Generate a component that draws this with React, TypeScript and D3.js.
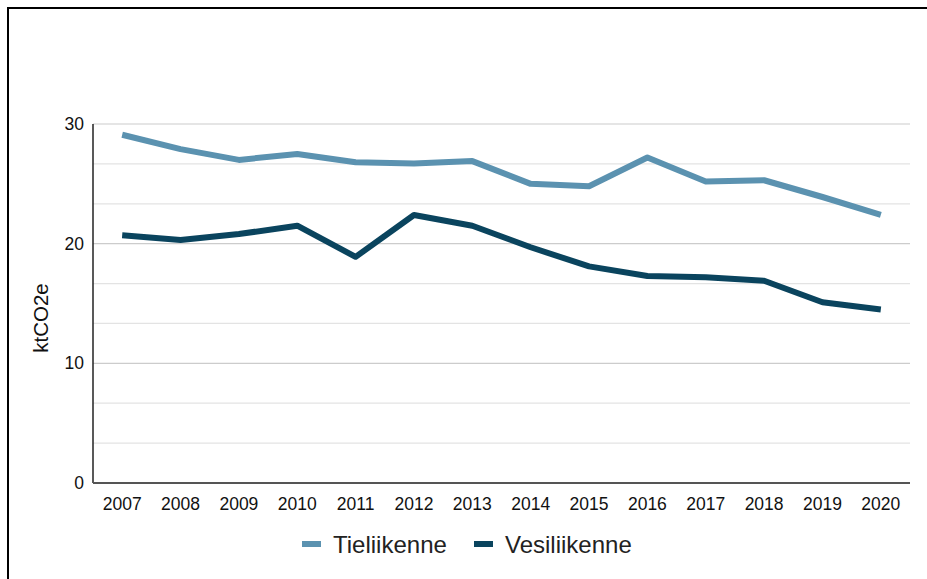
import React from "react";
import { scaleBand, scaleLinear, line } from "d3";

const years = ["2007", "2008", "2009", "2010", "2011", "2012", "2013", "2014", "2015", "2016", "2017", "2018", "2019", "2020"];
const tieliikenne = [29.1, 27.9, 27.0, 27.5, 26.8, 26.7, 26.9, 25.0, 24.8, 27.2, 25.2, 25.3, 23.9, 22.4];
const vesiliikenne = [20.7, 20.3, 20.8, 21.5, 18.9, 22.4, 21.5, 19.7, 18.1, 17.3, 17.2, 16.9, 15.1, 14.5];
const yTicks = [0, 10, 20, 30];
const gridValues = [10 / 3, 20 / 3, 10, 40 / 3, 50 / 3, 20, 70 / 3, 80 / 3, 30];

const seriesList = [
  { name: "Tieliikenne", values: tieliikenne, color: "#5b92b0" },
  { name: "Vesiliikenne", values: vesiliikenne, color: "#0a445e" },
];

const W = 927;
const H = 579;
const left = 93;
const right = 910;
const top = 124;
const bottom = 483;

export default function App() {
  const x = scaleBand().domain(years).range([left, right]).padding(0);
  const y = scaleLinear().domain([0, 30]).range([bottom, top]);
  const cx = (d: string) => (x(d) ?? 0) + x.bandwidth() / 2;

  const font = "'Liberation Sans', Arial, sans-serif";

  return (
    <svg
      width={W}
      height={H}
      style={{ position: "absolute", left: 0, top: 0, display: "block", background: "#fff" }}
      fontFamily={font}
    >
      {/* frame */}
      <rect x={8} y={8} width={940} height={600} fill="none" stroke="#000" strokeWidth={2} />

      {/* grid */}
      {gridValues.map((v, i) => {
        const major = Math.abs(v - Math.round(v / 10) * 10) < 1e-6;
        return (
          <line
            key={i}
            x1={left}
            x2={right}
            y1={y(v)}
            y2={y(v)}
            stroke={major ? "#cccccc" : "#e3e3e3"}
            strokeWidth={1.2}
          />
        );
      })}

      {/* axes */}
      <line x1={left} x2={left} y1={top} y2={bottom} stroke="#222" strokeWidth={1.5} />
      <line x1={left} x2={right} y1={bottom} y2={bottom} stroke="#555" strokeWidth={2} />

      {yTicks.map((t) => (
        <text key={t} x={84} y={y(t) + 6} textAnchor="end" fontSize={17.5} fill="#111">
          {t}
        </text>
      ))}

      {years.map((d) => (
        <text key={d} x={cx(d)} y={510} textAnchor="middle" fontSize={17.5} fill="#111">
          {d}
        </text>
      ))}

      <text
        transform={`translate(48,318) rotate(-90)`}
        textAnchor="middle"
        fontSize={20.5}
        fill="#111"
      >
        ktCO2e
      </text>

      {/* lines */}
      {seriesList.map((s) => {
        const path = line<number>()
          .x((_, i) => cx(years[i]))
          .y((v) => y(v))(s.values);
        return (
          <path
            key={s.name}
            d={path ?? ""}
            fill="none"
            stroke={s.color}
            strokeWidth={6}
            strokeLinejoin="round"
          />
        );
      })}

      {/* legend */}
      <rect x={302} y={541} width={19} height={6} fill={seriesList[0].color} />
      <text x={333} y={553} fontSize={24} fill="#222">
        {seriesList[0].name}
      </text>
      <rect x={474} y={541} width={19} height={6} fill={seriesList[1].color} />
      <text x={505} y={553} fontSize={24} fill="#222">
        {seriesList[1].name}
      </text>
    </svg>
  );
}
